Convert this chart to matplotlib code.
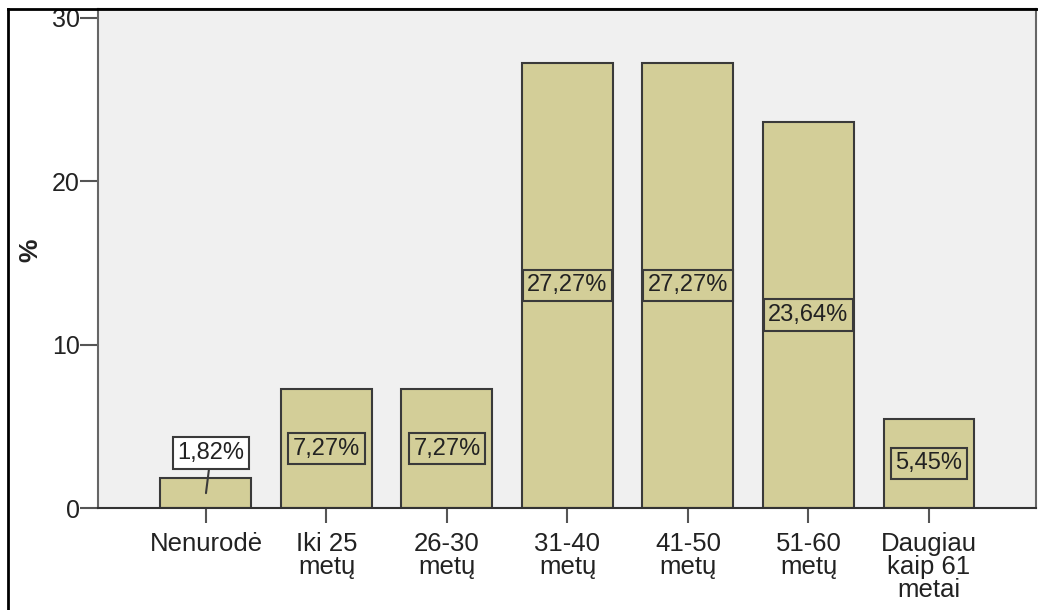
import matplotlib
matplotlib.use("Agg")
import matplotlib.pyplot as plt
from matplotlib.lines import Line2D

plt.rcParams['font.family'] = ['Liberation Sans', 'DejaVu Sans']

categories = ["Nenurodė", "Iki 25\nmetų", "26-30\nmetų", "31-40\nmetų",
              "41-50\nmetų", "51-60\nmetų", "Daugiau\nkaip 61\nmetai"]
percents = [1.82, 7.27, 7.27, 27.27, 27.27, 23.64, 5.45]
value_labels = ["1,82%", "7,27%", "7,27%", "27,27%", "27,27%", "23,64%", "5,45%"]
y_ticks = [0, 10, 20, 30]

BAR_COLOR = "#D3CE98"
EDGE = "#3a3a3a"
BG = "#F0F0F0"
TXT = "#222222"

W, H = 1038, 610
fig = plt.figure(figsize=(W / 100, H / 100), dpi=100)
ax = fig.add_axes([98 / W, (H - 508) / H, (1036 - 98) / W, (508 - 9) / H])
ax.set_facecolor(BG)

x = list(range(len(categories)))
bars = ax.bar(x, percents, width=0.755, color=BAR_COLOR, edgecolor=EDGE,
              linewidth=1.5, zorder=2)

ax.set_xlim(-0.896, 6.888)
ax.set_ylim(0, 30.55)
ax.set_yticks(y_ticks)
ax.set_yticklabels([str(t) for t in y_ticks])
ax.set_xticks(x)
ax.set_xticklabels(categories, linespacing=0.95)

ax.tick_params(axis='y', length=13, width=1.5, color="#555555", pad=0,
               labelsize=18, labelcolor=TXT)
ax.tick_params(axis='x', length=11, width=1.5, color="#555555", pad=6,
               labelsize=18.5, labelcolor=TXT)

for side in ["left", "right", "top"]:
    ax.spines[side].set_color("#666666")
    ax.spines[side].set_linewidth(1.5)
ax.spines["top"].set_color("#333333")
ax.spines["bottom"].set_color("#333333")
ax.spines["bottom"].set_linewidth(1.5)

# axis title placed in figure pixels, left of the tick labels
fig.text(30 / W, (H - 250) / H, "%", rotation=90, ha='center', va='center',
         fontsize=19, fontweight='bold', color=TXT)

# value labels: inside bars at half height, small bars get an outside callout
for xi, v, lab in zip(x, percents, value_labels):
    if v < 3:
        ax.annotate(lab, xy=(xi, v / 2), xytext=(5, 40), textcoords='offset pixels',
                    ha='center', va='center', fontsize=17, color=TXT, zorder=4,
                    bbox=dict(boxstyle='square,pad=0.2', fc='white', ec=EDGE, lw=1.5),
                    arrowprops=dict(arrowstyle='-', color=EDGE, lw=1.5,
                                    shrinkA=0, shrinkB=0))
    else:
        ax.text(xi, v / 2, lab, ha='center', va='center', fontsize=17, color=TXT,
                zorder=4,
                bbox=dict(boxstyle='square,pad=0.2', fc=BAR_COLOR, ec=EDGE, lw=1.5))

# outer frame on the left and top of the figure
fig.add_artist(Line2D([8 / W, 8 / W], [0, (H - 9) / H], color="black", lw=2,
                      transform=fig.transFigure))
fig.add_artist(Line2D([8 / W, 1], [(H - 9) / H, (H - 9) / H], color="black", lw=2,
                      transform=fig.transFigure))

fig.savefig("out.png", dpi=100, facecolor="white")
